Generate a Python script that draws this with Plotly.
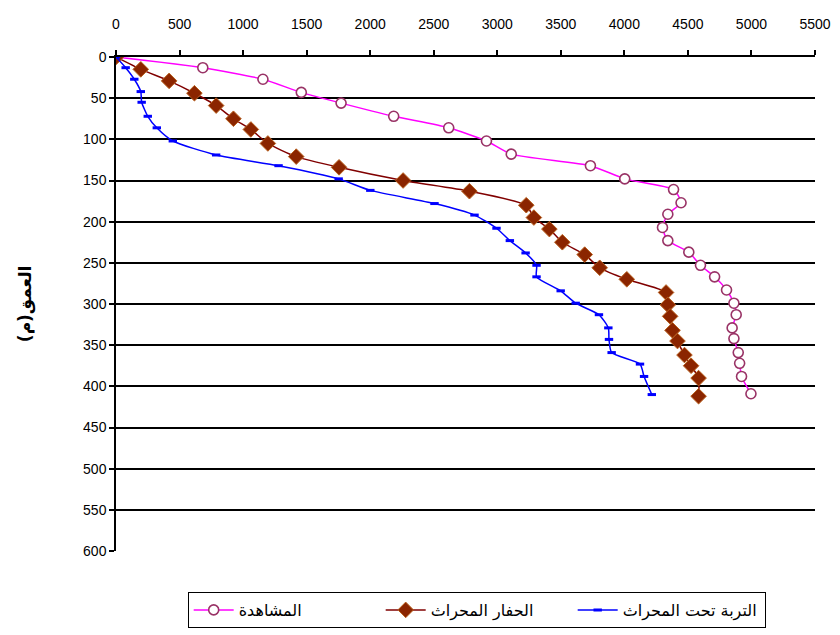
import plotly.graph_objects as go

# المشاهدة (observed)
obs_x = [0, 683, 1156, 1458, 1771, 2185, 2618, 2915, 3110, 3733, 4003, 4387, 4446, 4342,
         4300, 4342, 4507, 4599, 4710, 4804, 4862, 4880, 4848, 4862, 4896, 4907, 4922, 4996]
obs_y = [0, 13, 27, 43, 56, 72, 86, 102, 118, 132, 148, 161, 177, 191,
         207, 223, 237, 253, 267, 283, 299, 313, 329, 342, 359, 372, 388, 409]

# الحفار المحراث
dig_x = [0, 195, 418, 617, 788, 924, 1061, 1195, 1418, 1755, 2259, 2781, 3228, 3288,
         3410, 3512, 3688, 3806, 4019, 4328, 4342, 4360, 4379, 4418, 4473, 4525, 4584, 4584]
dig_y = [0, 15, 29, 44, 59, 75, 88, 105, 121, 134, 150, 163, 180, 195,
         209, 225, 240, 256, 270, 286, 301, 315, 332, 345, 362, 375, 390, 412]

# التربة تحت المحراث
soil_x = [0, 76, 144, 195, 202, 250, 321, 447, 788, 1279, 1752, 2001, 2506, 2821,
          2994, 3099, 3223, 3309, 3309, 3499, 3617, 3800, 3874, 3879, 3900, 4123, 4155, 4216]
soil_y = [0, 13, 27, 42, 55, 72, 86, 102, 119, 132, 148, 162, 178, 192,
          208, 223, 238, 253, 267, 284, 299, 313, 329, 343, 359, 373, 388, 410]

names = ["المشاهدة", "الحفار المحراث", "التربة تحت المحراث"]
x_ticks = list(range(0, 5501, 500))
y_ticks = list(range(0, 601, 50))
y_title = "العمق(م)"

fig = go.Figure()
fig.add_trace(go.Scatter(
    x=obs_x, y=obs_y, name=names[0], mode="lines+markers",
    line=dict(color="#FF00FF", width=1.5, shape="spline", smoothing=0.6),
    marker=dict(symbol="circle", size=10, color="white",
                line=dict(color="#993366", width=1.6)),
))
fig.add_trace(go.Scatter(
    x=dig_x, y=dig_y, name=names[1], mode="lines+markers",
    line=dict(color="#800000", width=1.5, shape="spline", smoothing=0.6),
    marker=dict(symbol="diamond", size=12, color="#8B2500",
                line=dict(color="#B8601E", width=1)),
))
fig.add_trace(go.Scatter(
    x=soil_x, y=soil_y, name=names[2], mode="lines+markers",
    line=dict(color="#0000FF", width=1.5, shape="spline", smoothing=0.6),
    marker=dict(symbol="line-ew", size=6, color="#0000FF",
                line=dict(color="#0000FF", width=3)),
))

fig.add_annotation(
    text="<b>" + y_title + "</b>", xref="paper", yref="paper",
    x=-0.13, y=0.5, xanchor="center", yanchor="middle", textangle=-90,
    showarrow=False, font=dict(size=17, family="DejaVu Sans", color="black"),
)

fig.update_layout(
    width=832, height=627,
    margin=dict(l=108, r=25, t=49, b=84, autoexpand=False),
    paper_bgcolor="white", plot_bgcolor="white",
    font=dict(family="Liberation Sans, Arial, DejaVu Sans", size=14, color="black"),
    showlegend=True,
    legend=dict(
        orientation="h", x=0.516, xanchor="center", y=-0.083, yanchor="top",
        bordercolor="black", borderwidth=1, bgcolor="white",
        font=dict(size=16, family="DejaVu Sans, Liberation Sans"),
        itemwidth=40, entrywidth=137, entrywidthmode="pixels",
    ),
    xaxis=dict(
        side="top", range=[0, 5500], tickvals=x_ticks,
        ticktext=[str(v) for v in x_ticks], automargin=False,
        showgrid=False, zeroline=False, showline=True, linecolor="black", linewidth=1.5,
        ticks="outside", ticklen=5, tickcolor="black", tickwidth=1.5,
        tickfont=dict(size=14), ticklabelstandoff=16,
    ),
    yaxis=dict(
        range=[600, 0], tickvals=y_ticks, ticktext=[str(v) for v in y_ticks],
        automargin=False,
        showgrid=True, gridcolor="black", gridwidth=1.5, zeroline=False,
        showline=True, linecolor="black", linewidth=1.5,
        ticks="outside", ticklen=5, tickcolor="black", tickwidth=1.5,
        tickfont=dict(size=14),
    ),
)

fig.write_html("out.html")
